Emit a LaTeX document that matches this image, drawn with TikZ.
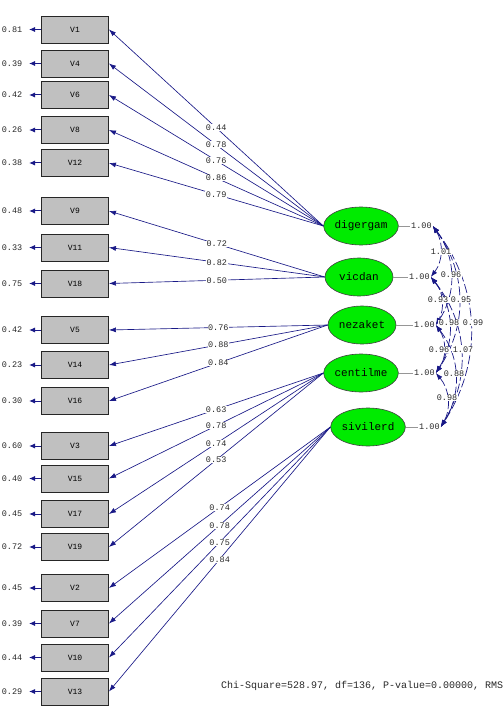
\documentclass[tikz,border=0pt]{standalone}
\usepackage{fontspec}
\newfontfamily\lmono{Liberation Mono}
\usetikzlibrary{arrows.meta,shapes.geometric}
\definecolor{navy}{RGB}{25,25,135}
\definecolor{boxgray}{RGB}{192,192,192}
\definecolor{latgreen}{RGB}{0,235,0}
\definecolor{vargray}{RGB}{150,150,150}
\definecolor{txtgray}{RGB}{40,40,40}
\begin{document}
\begin{tikzpicture}[x=1pt,y=-1pt,
  obs/.style={draw=black!85, line width=0.9pt, fill=boxgray, minimum width=67pt,
    minimum height=27pt, inner sep=0pt, font=\lmono\fontsize{8}{8}\selectfont},
  lat/.style={ellipse, draw=black!75, line width=0.6pt, fill=latgreen,
    minimum width=68pt, minimum height=38pt, inner sep=0pt,
    font=\lmono\fontsize{11}{11}\selectfont},
  ld/.style={draw=navy, line width=0.65pt, -{Latex[length=7pt,width=5pt]}},
  errarr/.style={draw=navy, line width=1pt, -{Latex[length=6pt,width=5pt]}},
  val/.style={font=\lmono\fontsize{8.5}{8.5}\selectfont, text=txtgray, inner sep=0.5pt},
  lval/.style={val, fill=white},
  vtxt/.style={val, inner sep=1pt},
  evar/.style={draw=vargray, line width=0.9pt},
  cov/.style={draw=navy, line width=0.7pt, dash pattern=on 9pt off 3pt,
    {Latex[length=7pt,width=5pt]}-{Latex[length=7pt,width=5pt]}},
]
\useasboundingbox (0,0) rectangle (503,711);
\fill[white] (0,0) rectangle (503,711);

% latent variables
\node[lat] (digergam) at (361,226) {digergam};
\node[lat] (vicdan) at (359,277) {vicdan};
\node[lat] (nezaket) at (362,325) {nezaket};
\node[lat] (centilme) at (361,373) {centilme};
\node[lat] (sivilerd) at (368,427) {sivilerd};

% observed variables with error variances
\foreach \n/\y/\e in {V1/29.5/0.81, V4/63.5/0.39, V6/95/0.42, V8/130/0.26, V12/163/0.38,
  V9/211/0.48, V11/247.5/0.33, V18/283.5/0.75,
  V5/330/0.42, V14/365/0.23, V16/401/0.30,
  V3/446/0.60, V15/478.5/0.40, V17/514/0.45, V19/547/0.72,
  V2/588/0.45, V7/623.5/0.39, V10/657.5/0.44, V13/691.5/0.29}{
  \node[obs] (\n) at (75,\y) {\n};
  \coordinate (c\n) at (29,\y);
  \node[val,anchor=east] (e\n) at (23,\y) {\e};
  \draw[errarr] (\n.west) -- (c\n);
}

% loadings
\foreach \n/\l in {V1/0.44, V4/0.78, V6/0.76, V8/0.86, V12/0.79}{
  \draw[ld] (digergam.west) -- node[lval]{\l} (\n.east);}
\foreach \n/\l in {V9/0.72, V11/0.82, V18/0.50}{
  \draw[ld] (vicdan.west) -- node[lval]{\l} (\n.east);}
\foreach \n/\l in {V5/0.76, V14/0.88, V16/0.84}{
  \draw[ld] (nezaket.west) -- node[lval]{\l} (\n.east);}
\foreach \n/\l in {V3/0.63, V15/0.78, V17/0.74, V19/0.53}{
  \draw[ld] (centilme.west) -- node[lval]{\l} (\n.east);}
\foreach \n/\l in {V2/0.74, V7/0.78, V10/0.75, V13/0.84}{
  \draw[ld] (sivilerd.west) -- node[lval]{\l} (\n.east);}

% factor variances
\node[vtxt,anchor=west] (vdig) at (410,226) {1.00};
\node[vtxt,anchor=west] (vvic) at (408,277) {1.00};
\node[vtxt,anchor=west] (vnez) at (413,325) {1.00};
\node[vtxt,anchor=west] (vcen) at (413,373) {1.00};
\node[vtxt,anchor=west] (vsiv) at (418,427) {1.00};
\draw[evar] (digergam.east) -- (vdig.west);
\draw[evar] (vicdan.east) -- (vvic.west);
\draw[evar] (nezaket.east) -- (vnez.west);
\draw[evar] (centilme.east) -- (vcen.west);
\draw[evar] (sivilerd.east) -- (vsiv.west);

% factor correlations
\draw[cov] (vdig.east) to[bend left=35] (vvic.east);
\draw[cov] (vvic.east) to[bend left=35] (vnez.east);
\draw[cov] (vnez.east) to[bend left=35] (vcen.east);
\draw[cov] (vcen.east) to[bend left=35] (vsiv.east);
\draw[cov] (vdig.east) to[bend left=35] (vnez.east);
\draw[cov] (vvic.east) to[bend left=35] (vcen.east);
\draw[cov] (vnez.east) to[bend left=35] (vsiv.east);
\draw[cov] (vdig.east) to[bend left=35] (vcen.east);
\draw[cov] (vvic.east) to[bend left=35] (vsiv.east);
\draw[cov] (vdig.east) to[bend left=35] (vsiv.east);

\node[lval] (kdv) at (441,252) {1.01};
\node[lval] (kvn) at (438,300) {0.93};
\node[lval] (knc) at (439,350) {0.96};
\node[lval] (kcs) at (447,398) {0.98};
\node[lval] (kdn) at (451,275) {0.96};
\node[lval] (kvc) at (449,323) {0.98};
\node[lval] (kns) at (454,374) {0.88};
\node[lval] (kdc) at (461,300) {0.95};
\node[lval] (kvs) at (463,350) {1.07};
\node[lval] (kds) at (473,323) {0.99};

% fit statistics
\node[anchor=west, inner sep=0pt, text=txtgray, font=\lmono\fontsize{10}{10}\selectfont]
  (fit) at (221,686) {Chi-Square=528.97, df=136, P-value=0.00000, RMS};
\end{tikzpicture}
\end{document}
